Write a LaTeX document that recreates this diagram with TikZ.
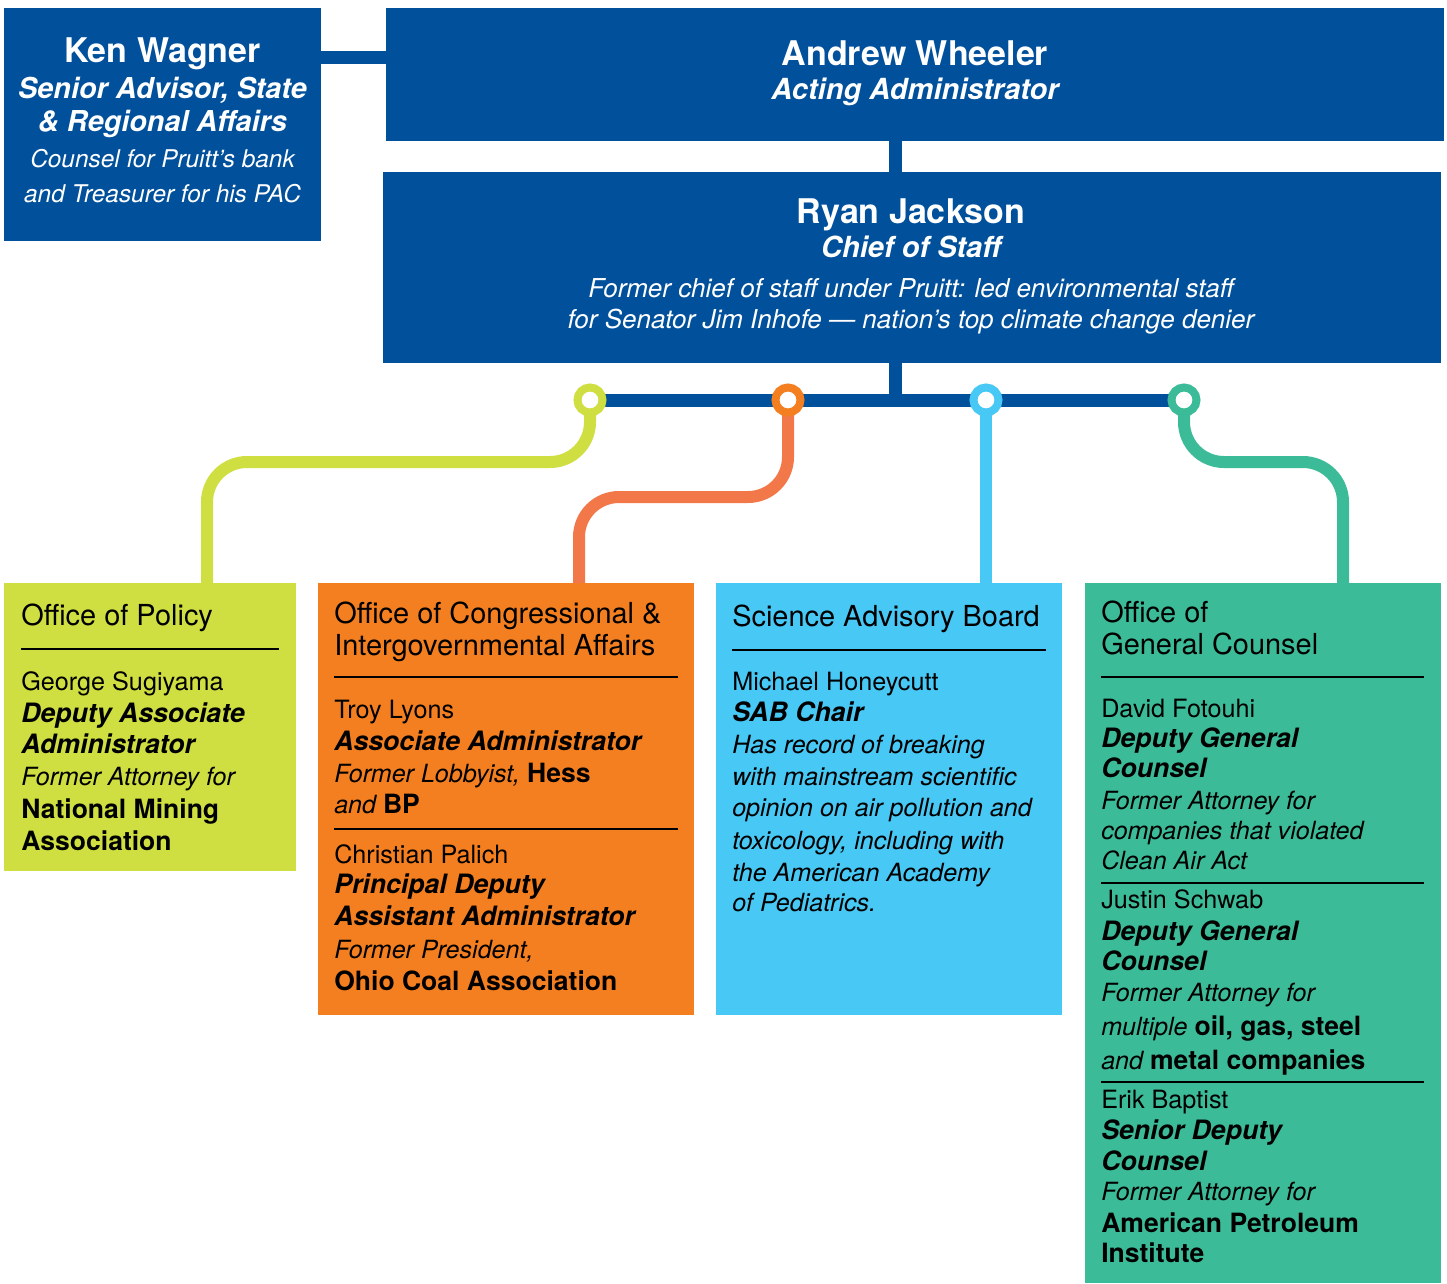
\documentclass[tikz,border=0pt]{standalone}
\usepackage{fontspec}
\setmainfont{TeX Gyre Heros}
\usetikzlibrary{fit,calc}
\definecolor{navy}{RGB}{0,80,155}
\definecolor{limec}{RGB}{207,222,64}
\definecolor{orangebox}{RGB}{244,127,32}
\definecolor{orangeln}{RGB}{242,120,74}
\definecolor{skyc}{RGB}{72,200,245}
\definecolor{greenc}{RGB}{60,187,152}
\newcommand\orgb[1]{{\fontsize{19.9pt}{22pt}\selectfont\bfseries\upshape #1}}
\newcommand\tline[5]{\node[#4] (#1) at (#2,#3) {#5};}
\tikzset{
  panel/.style={inner sep=0pt, outer sep=0pt, draw=none},
  ctxt/.style={anchor=base, inner sep=0pt, text=white},
  ltxt/.style={anchor=base west, inner sep=0pt, text=black},
  bigname/.style={ctxt, font=\fontsize{25.5pt}{30pt}\selectfont\bfseries},
  bigtitle/.style={ctxt, font=\fontsize{21.8pt}{26pt}\selectfont\bfseries\itshape},
  kennote/.style={ctxt, font=\fontsize{18.3pt}{22pt}\selectfont\itshape},
  ryannote/.style={ctxt, font=\fontsize{19.5pt}{22pt}\selectfont\itshape},
  head/.style={ltxt, font=\fontsize{21.7pt}{26pt}\selectfont},
  pname/.style={ltxt, font=\fontsize{18.9pt}{22pt}\selectfont},
  ptitle/.style={ltxt, font=\fontsize{20pt}{22pt}\selectfont\bfseries\itshape},
  pnote/.style={ltxt, font=\fontsize{18.8pt}{22pt}\selectfont\itshape},
  porg/.style={ltxt, font=\fontsize{19.9pt}{22pt}\selectfont\bfseries},
  rulel/.style={draw=black, line width=1.1pt},
  navyline/.style={draw=navy, line width=9.75pt},
  conn/.style={line width=9pt, rounded corners=30pt},
  ring/.style={circle, draw=#1, line width=6pt, fill=white, minimum size=18.75pt, inner sep=0pt},
}
\begin{document}
\begin{tikzpicture}[x=0.75pt, y=-0.75pt]
\useasboundingbox (0,0) rectangle (1447,1283);
% top boxes
\node[panel, fill=navy, fit={(4,8) (321,241)}] (ken) {};
\node[panel, fill=navy, fit={(386,8) (1444,141)}] (andrew) {};
\node[panel, fill=navy, fit={(383,172) (1441,363)}] (ryan) {};
% bottom boxes
\node[panel, fill=limec, fit={(4,583) (296,871)}] (policy) {};
\node[panel, fill=orangebox, fit={(318,583) (694,1015)}] (congress) {};
\node[panel, fill=skyc, fit={(716,583) (1062,1015)}] (sab) {};
\node[panel, fill=greenc, fit={(1085,583) (1441,1283)}] (ogc) {};
% navy connectors
\coordinate (kb) at (0,57);
\coordinate (vx) at (895,0);
\draw[navyline] (ken.east |- kb) -- (andrew.west |- kb);
\draw[navyline] (andrew.south -| vx) -- (ryan.north -| vx);
% rings positions
\coordinate (pL) at (590,400);
\coordinate (pO) at (788,400);
\coordinate (pS) at (986,400);
\coordinate (pG) at (1184,400);
% coloured connectors
\draw[conn, draw=limec] (pL) -- (590,462) -- (207,462) -- ($(policy.north west)+(203,0)$);
\draw[conn, draw=orangeln] (pO) -- (788,497) -- (579,497) -- ($(congress.north west)+(261,0)$);
\draw[conn, draw=skyc] (pS) -- (sab.north -| pS);
\draw[conn, draw=greenc] (pG) -- (1184,462) -- (1343,462) -- ($(ogc.north west)+(258,0)$);
% bus
\draw[navyline] (ryan.south -| vx) -- (pL -| vx);
\draw[navyline] (pL) -- (pG);
\node[ring=limec] (rL) at (pL) {};
\node[ring=orangebox] (rO) at (pO) {};
\node[ring=skyc] (rS) at (pS) {};
\node[ring=greenc] (rG) at (pG) {};
% Ken text
\tline{k1}{162.5}{62}{bigname}{Ken Wagner}
\tline{k2}{162.5}{98}{bigtitle, font=\fontsize{21.6pt}{26pt}\selectfont\bfseries\itshape}{Senior Advisor, State}
\tline{k3}{162.5}{131}{bigtitle, font=\fontsize{21.6pt}{26pt}\selectfont\bfseries\itshape}{\& Regional Affairs}
\tline{k4}{162.5}{167}{kennote}{Counsel for Pruitt’s bank}
\tline{k5}{162.5}{202}{kennote}{and Treasurer for his PAC}
% Andrew text
\tline{a1}{915}{65}{bigname}{Andrew Wheeler}
\tline{a2}{915}{99}{bigtitle}{Acting Administrator}
% Ryan text
\tline{r1}{911}{223}{bigname}{Ryan Jackson}
\tline{r2}{911}{257}{bigtitle}{Chief of Staff}
\tline{r3}{911}{297}{ryannote}{Former chief of staff under Pruitt: led environmental staff}
\tline{r4}{911}{328}{ryannote}{for Senator Jim Inhofe — nation’s top climate change denier}
% Office of Policy
\tline{p0}{21}{625}{head}{Office of Policy}
\draw[rulel] (21,649) -- (279,649);
\tline{p1}{21}{690}{pname}{George Sugiyama}
\tline{p2}{21}{722}{ptitle}{Deputy Associate}
\tline{p3}{21}{753}{ptitle}{Administrator}
\tline{p4}{21}{785}{pnote}{Former Attorney for}
\tline{p5}{21}{818}{porg}{National Mining}
\tline{p6}{21}{850}{porg}{Association}
% Congressional
\tline{c0}{334}{623}{head}{Office of Congressional \&}
\tline{c0b}{334}{655}{head}{Intergovernmental Affairs}
\draw[rulel] (334,677) -- (678,677);
\tline{c1}{334}{718}{pname}{Troy Lyons}
\tline{c2}{334}{750}{ptitle}{Associate Administrator}
\tline{c3}{334}{782}{pnote}{Former Lobbyist, \orgb{Hess}}
\tline{c4}{334}{813}{pnote}{and \orgb{BP}}
\draw[rulel] (334,829) -- (678,829);
\tline{c5}{334}{863}{pname}{Christian Palich}
\tline{c6}{334}{893}{ptitle}{Principal Deputy}
\tline{c7}{334}{925}{ptitle}{Assistant Administrator}
\tline{c8}{334}{958}{pnote}{Former President,}
\tline{c9}{334}{990}{porg}{Ohio Coal Association}
% SAB
\tline{s0}{732}{626}{head}{Science Advisory Board}
\draw[rulel] (732,650) -- (1046,650);
\tline{s1}{732}{690}{pname}{Michael Honeycutt}
\tline{s2}{732}{721}{ptitle}{SAB Chair}
\tline{s3}{732}{753}{pnote}{Has record of breaking}
\tline{s4}{732}{785}{pnote}{with mainstream scientific}
\tline{s5}{732}{816}{pnote}{opinion on air pollution and}
\tline{s6}{732}{849}{pnote}{toxicology, including with}
\tline{s7}{732}{881}{pnote}{the American Academy}
\tline{s8}{732}{911}{pnote}{of Pediatrics.}
% OGC
\tline{g0}{1101}{622}{head}{Office of}
\tline{g0b}{1101}{654}{head}{General Counsel}
\draw[rulel] (1101,677) -- (1424,677);
\tline{g1}{1101}{717}{pname}{David Fotouhi}
\tline{g2}{1101}{747}{ptitle}{Deputy General}
\tline{g3}{1101}{777}{ptitle}{Counsel}
\tline{g4}{1101}{809}{pnote}{Former Attorney for}
\tline{g5}{1101}{839}{pnote}{companies that violated}
\tline{g6}{1101}{869}{pnote}{Clean Air Act}
\draw[rulel] (1101,883) -- (1424,883);
\tline{g7}{1101}{908}{pname}{Justin Schwab}
\tline{g8}{1101}{940}{ptitle}{Deputy General}
\tline{g9}{1101}{970}{ptitle}{Counsel}
\tline{g10}{1101}{1001}{pnote}{Former Attorney for}
\tline{g11}{1101}{1035}{pnote}{multiple \orgb{oil, gas, steel}}
\tline{g12}{1101}{1069}{pnote}{and \orgb{metal companies}}
\draw[rulel] (1101,1082) -- (1424,1082);
\tline{g13}{1101}{1108}{pname}{Erik Baptist}
\tline{g14}{1101}{1139}{ptitle}{Senior Deputy}
\tline{g15}{1101}{1170}{ptitle}{Counsel}
\tline{g16}{1101}{1200}{pnote}{Former Attorney for}
\tline{g17}{1101}{1232}{porg}{American Petroleum}
\tline{g18}{1101}{1262}{porg}{Institute}
\end{tikzpicture}
\end{document}
